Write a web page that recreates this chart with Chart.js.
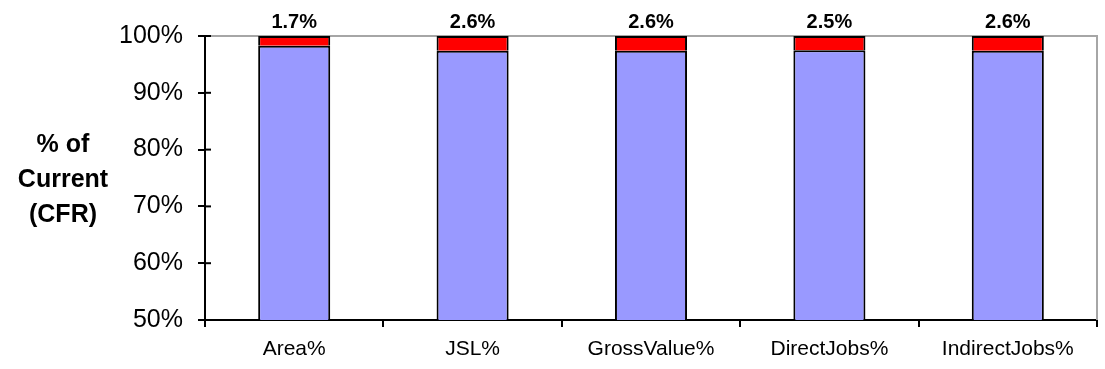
<!DOCTYPE html>
<html><head><meta charset="utf-8">
<script src="https://cdn.jsdelivr.net/npm/chart.js@4/dist/chart.umd.min.js"></script>
<style>html,body{margin:0;padding:0;background:#fff;}canvas{display:block;}</style>
</head><body>
<canvas id="c" width="1105" height="369"></canvas>
<script>
const categories = ["Area%", "JSL%", "GrossValue%", "DirectJobs%", "IndirectJobs%"];
const retainedValues = [98.3, 97.4, 97.4, 97.5, 97.4];
const reductionValues = [1.7, 2.6, 2.6, 2.5, 2.6];
const reductionLabels = ["1.7%", "2.6%", "2.6%", "2.5%", "2.6%"];
const yTitleLines = ["% of", "Current", "(CFR)"];

const FONT = "'Liberation Sans', Arial, sans-serif";

const extras = {
  id: 'extras',
  beforeDatasetsDraw(chart) {
    const ctx = chart.ctx, a = chart.chartArea;
    ctx.save();
    ctx.strokeStyle = '#a6a6a6';
    ctx.lineWidth = 2;
    ctx.beginPath();
    ctx.moveTo(a.left, a.top); ctx.lineTo(a.right, a.top); ctx.lineTo(a.right, a.bottom);
    ctx.stroke();
    ctx.strokeStyle = '#000'; ctx.lineWidth = 2;
    const ys = chart.scales.y;
    ys.ticks.forEach(t => {
      const y = ys.getPixelForValue(t.value);
      ctx.beginPath(); ctx.moveTo(a.left, y); ctx.lineTo(a.left + 6, y); ctx.stroke();
    });
    ctx.restore();
  },
  afterDraw(chart) {
    const ctx = chart.ctx;
    ctx.save();
    ctx.fillStyle = '#000';
    ctx.font = "bold 25px " + FONT;
    ctx.textAlign = 'center';
    ctx.textBaseline = 'alphabetic';
    const base = [152, 187, 222];
    yTitleLines.forEach((l, i) => ctx.fillText(l, 63, base[i]));
    ctx.font = "bold 20px " + FONT;
    const meta = chart.getDatasetMeta(1);
    meta.data.forEach((bar, i) => {
      ctx.fillText(reductionLabels[i], bar.x, bar.y - 8);
    });
    ctx.restore();
  }
};

new Chart(document.getElementById('c'), {
  type: 'bar',
  data: {
    labels: categories,
    datasets: [
      { data: retainedValues, backgroundColor: '#9999ff', borderColor: '#000', borderWidth: 2, borderSkipped: false },
      { data: reductionValues, backgroundColor: '#ff0000', borderColor: '#000', borderWidth: 2, borderSkipped: 'bottom' }
    ]
  },
  options: {
    responsive: false,
    animation: false,
    devicePixelRatio: 1,
    layout: { padding: { top: 36, right: 8, left: 0, bottom: 0 } },
    plugins: { legend: { display: false }, tooltip: { enabled: false } },
    datasets: { bar: { categoryPercentage: 1, barPercentage: 0.404 } },
    scales: {
      x: {
        stacked: true,
        afterFit(s) { s.height = 49; },
        grid: { offset: true, drawOnChartArea: false, drawTicks: true, tickLength: 7, color: '#000', lineWidth: 2 },
        border: { color: '#000', width: 2 },
        ticks: { color: '#000', font: { family: FONT, size: 21 }, padding: 10, maxRotation: 0 }
      },
      y: {
        stacked: true,
        min: 50, max: 100,
        afterFit(s) { s.width = 205; },
        grid: { drawOnChartArea: false, drawTicks: true, tickLength: 7, color: '#000', lineWidth: 2 },
        border: { color: '#000', width: 2 },
        ticks: { stepSize: 10, color: '#000', font: { family: FONT, size: 25 }, padding: 15, callback: v => v + '%' }
      }
    }
  },
  plugins: [extras]
});
</script>
</body></html>
